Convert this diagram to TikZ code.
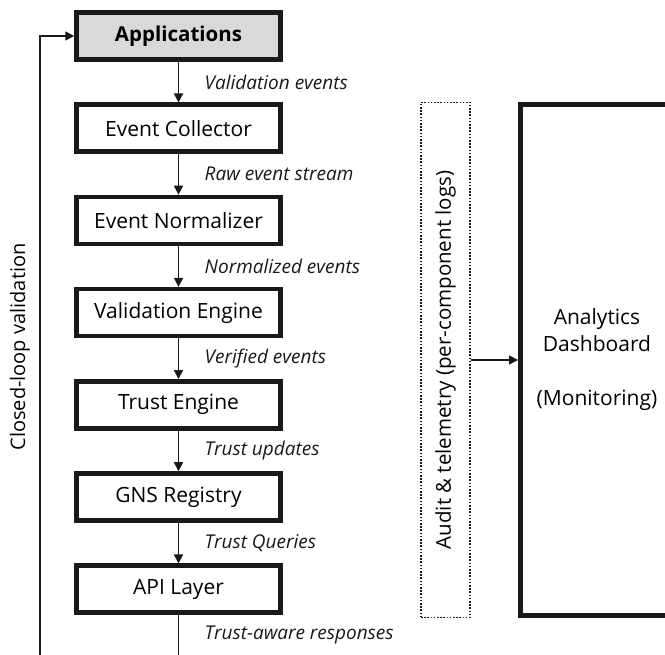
\documentclass[tikz,border=0pt]{standalone}
\usepackage{fontspec}
\setmainfont{Open Sans}
\usetikzlibrary{arrows.meta,positioning}

\begin{document}
\begin{tikzpicture}[x=1pt, y=1pt,
    stage/.style={draw=black!90, line width=4.5pt, minimum width=204pt, minimum height=47pt, font=\fontsize{21}{25}\selectfont},
    flow/.style={-{Triangle[length=9pt,width=9pt]}, line width=1.7pt, black!90},
    lbl/.style={right, font=\fontsize{19}{22}\selectfont\itshape}]
    \useasboundingbox (0,0) rectangle (665,-655);
    \clip (0,0) rectangle (665,-655);

%pipeline
    \node[stage, fill=black!15, font=\fontsize{20.5}{24}\selectfont\bfseries] (apps) at (178.5,-36) {Applications};
    \node[stage, below=40.7pt of apps] (coll) {Event Collector};
    \node[stage, below=40.7pt of coll] (norm) {Event Normalizer};
    \node[stage, below=40.7pt of norm] (valid) {Validation Engine};
    \node[stage, below=40.7pt of valid] (trust) {Trust Engine};
    \node[stage, below=40.7pt of trust] (gns) {GNS Registry};
    \node[stage, below=40.7pt of gns] (api) {API Layer};

    \draw[flow] (apps) -- node[lbl, xshift=22pt] {Validation events} (coll);
    \draw[flow] (coll) -- node[lbl, xshift=22pt] {Raw event stream} (norm);
    \draw[flow] (norm) -- node[lbl, xshift=22pt] {Normalized events} (valid);
    \draw[flow] (valid) -- node[lbl, xshift=22pt] {Verified events} (trust);
    \draw[flow] (trust) -- node[lbl, xshift=22pt] {Trust updates} (gns);
    \draw[flow] (gns) -- node[lbl, xshift=22pt] {Trust Queries} (api);

%closed loop
    \coordinate (loopleft) at (40,-720);
    \draw[flow] (api.south) -- node[lbl, pos=0.19, xshift=22pt] {Trust-aware responses} (api.south |- loopleft) -- (loopleft) |- (apps.west);
    \node[rotate=90, font=\fontsize{20}{24}\selectfont] (looptxt) at (20,-347) {Closed-loop validation};

%audit + dashboard
    \node[draw=black!90, line width=1.6pt, dash pattern=on 1.6pt off 1.6pt, minimum width=49pt, minimum height=515pt] (audit) at (445.5,-360) {};
    \node[rotate=90, font=\fontsize{20.5}{24}\selectfont] (audittxt) at (audit.center) {Audit \& telemetry (per-component logs)};
    \node[draw=black!90, line width=4.5pt, minimum width=153.5pt, minimum height=511pt, align=center, font=\fontsize{21}{27}\selectfont] (dash) at (597,-360) {Analytics\\Dashboard\\[27pt](Monitoring)};
    \draw[flow] (audit) -- (dash);
\end{tikzpicture}
\end{document}
